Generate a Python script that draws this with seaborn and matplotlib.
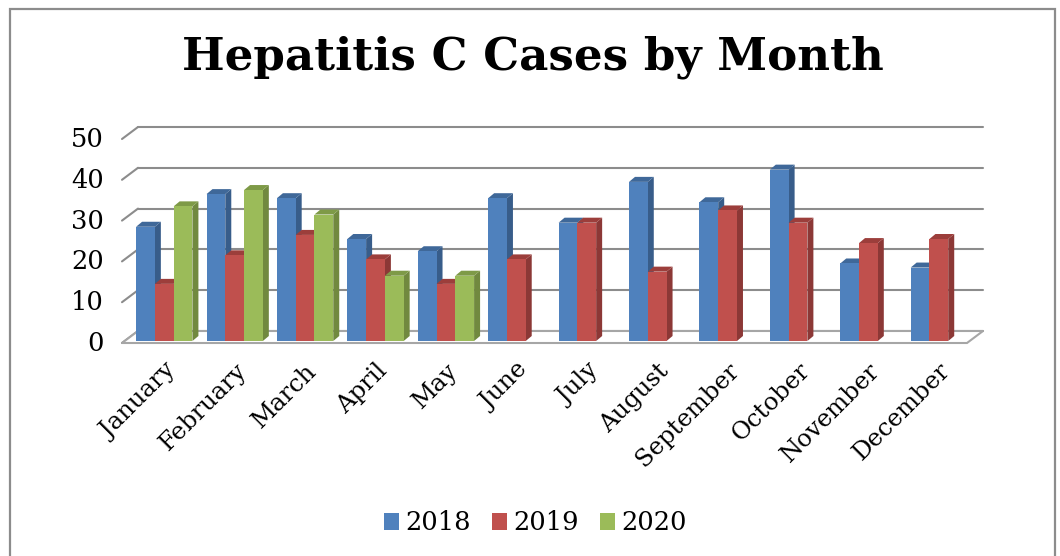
import numpy as np
import pandas as pd
import matplotlib
matplotlib.use("Agg")
import matplotlib.pyplot as plt
import seaborn as sns
from matplotlib.patches import Polygon, Rectangle
from matplotlib.lines import Line2D
from matplotlib.transforms import IdentityTransform

# ---------------- data ----------------
months = ["January", "February", "March", "April", "May", "June", "July",
          "August", "September", "October", "November", "December"]
years = ["2018", "2019", "2020"]
cases_2018 = [28, 36, 35, 25, 22, 35, 29, 39, 34, 42, 19, 18]
cases_2019 = [14, 21, 26, 20, 14, 20, 29, 17, 32, 29, 24, 25]
cases_2020 = [33, 37, 31, 16, 16]          # January - May only
y_ticks = [0, 10, 20, 30, 40, 50]
title = "Hepatitis C Cases by Month"

rows = []
for m, v in zip(months, cases_2018):
    rows.append((m, "2018", v))
for m, v in zip(months, cases_2019):
    rows.append((m, "2019", v))
for m, v in zip(months, cases_2020):
    rows.append((m, "2020", v))
df = pd.DataFrame(rows, columns=["Month", "Year", "Cases"])

front_colors = ["#4F81BD", "#C0504D", "#9BBB59"]
side_colors = ["#385D8A", "#8C3836", "#71893F"]
top_colors = ["#3F6899", "#9C3E3B", "#7E9A47"]

# ---------------- figure ----------------
sns.set_style("white")
plt.rcParams["font.family"] = ["DejaVu Serif"]
plt.rcParams["text.color"] = "black"
plt.rcParams["xtick.color"] = "black"
plt.rcParams["ytick.color"] = "black"
plt.rcParams["axes.labelcolor"] = "black"

W, H = 1060, 556
fig = plt.figure(figsize=(W / 100, H / 100), dpi=100)
fig.patch.set_facecolor("white")

ax_left, ax_right, ax_bottom, ax_top = 122, 967, 341, 137
ax = fig.add_axes([ax_left / W, 1 - ax_bottom / H,
                   (ax_right - ax_left) / W, (ax_bottom - ax_top) / H])
ax.set_facecolor("none")

sns.barplot(data=df, x="Month", y="Cases", hue="Year", order=months,
            hue_order=years, palette=front_colors, saturation=1,
            width=0.8, ax=ax, legend=True, linewidth=0, errorbar=None)

ax.set_xlim(-0.6, 11.4)
ax.set_ylim(0, 50)
ax.set_yticks(y_ticks)
ax.set_yticklabels([str(t) for t in y_ticks], fontsize=18.5)
ax.tick_params(axis="y", length=0, pad=13)
ax.set_xticks(range(len(months)))
ax.set_xticklabels(months, rotation=45, ha="right", rotation_mode="anchor",
                   fontsize=17.5)
ax.tick_params(axis="x", length=0, pad=13)
ax.set_xlabel("")
ax.set_ylabel("")
for s in ax.spines.values():
    s.set_visible(False)
ax.grid(False)

# ---------------- pseudo-3D walls / gridlines ----------------
ddx, ddy = 16, 10          # depth of the floor / back wall in px
fdy = -2                   # front edge slightly below the bar plane
grid_c = "#8C8C8C"
tD = ax.transData
x_lo, x_hi = ax.get_xlim()
for t in y_ticks:
    (fx0, fy), = tD.transform([(x_lo, t)])
    (fx1, _), = tD.transform([(x_hi, t)])
    ax.add_line(Line2D([fx0 + ddx, fx1 + ddx], [fy + ddy, fy + ddy],
                       transform=IdentityTransform(), color=grid_c, lw=1.5,
                       zorder=0.5, clip_on=False))
    ax.add_line(Line2D([fx0, fx0 + ddx], [fy + fdy, fy + ddy],
                       transform=IdentityTransform(), color=grid_c, lw=1.5,
                       zorder=0.5, clip_on=False))
# floor
(fx0, fy), = tD.transform([(x_lo, 0)])
(fx1, _), = tD.transform([(x_hi, 0)])
floor = Polygon([(fx0, fy + fdy), (fx1, fy + fdy), (fx1 + ddx, fy + ddy),
                 (fx0 + ddx, fy + ddy)],
                closed=True, transform=IdentityTransform(), facecolor="white",
                edgecolor="#A6A6A6", lw=1.5, zorder=0.6, clip_on=False)
ax.add_patch(floor)

# ---------------- pseudo-3D bar faces ----------------
bdx, bdy = 6, 5
bars = [p for p in ax.patches if isinstance(p, Rectangle) and p.get_height() > 0
        and p.get_width() < 1]
bars.sort(key=lambda p: p.get_x())
hex_to_idx = {matplotlib.colors.to_hex(c).lower(): i for i, c in enumerate(front_colors)}
for i, p in enumerate(bars):
    ci = hex_to_idx.get(matplotlib.colors.to_hex(p.get_facecolor()).lower(), 0)
    x0, w, h = p.get_x(), p.get_width(), p.get_height()
    (X0, Y0), = tD.transform([(x0, 0)])
    (X1, Yt), = tD.transform([(x0 + w, h)])
    z = 2 + 2 * i
    p.set_zorder(z + 1)
    side = Polygon([(X1, Y0), (X1 + bdx, Y0 + bdy), (X1 + bdx, Yt + bdy), (X1, Yt)],
                   closed=True, transform=IdentityTransform(),
                   facecolor=side_colors[ci], edgecolor="none", zorder=z,
                   clip_on=False)
    top = Polygon([(X0, Yt), (X1, Yt), (X1 + bdx, Yt + bdy), (X0 + bdx, Yt + bdy)],
                  closed=True, transform=IdentityTransform(),
                  facecolor=top_colors[ci], edgecolor="none", zorder=z,
                  clip_on=False)
    ax.add_patch(side)
    ax.add_patch(top)

# ---------------- legend ----------------
handles, labels = ax.get_legend_handles_labels()
if ax.get_legend() is not None:
    ax.get_legend().remove()
fig.legend(handles, labels, loc="center", bbox_to_anchor=(0.505, 1 - 523 / H),
           ncol=3, frameon=False, fontsize=18.5, handlelength=0.6,
           handleheight=0.6, handletextpad=0.25, columnspacing=0.8)

# ---------------- title ----------------
fig.text(0.503, 1 - 57 / H, title, ha="center", va="center",
         fontsize=32.5, fontweight="bold")

# ---------------- border ----------------
fig.add_artist(Rectangle((10 / W, -0.05), (1055 - 10) / W, 1.05 - 9 / H,
                         transform=fig.transFigure, fill=False,
                         edgecolor="#8C8C8C", lw=1.6))

fig.savefig("out.png", dpi=100)
